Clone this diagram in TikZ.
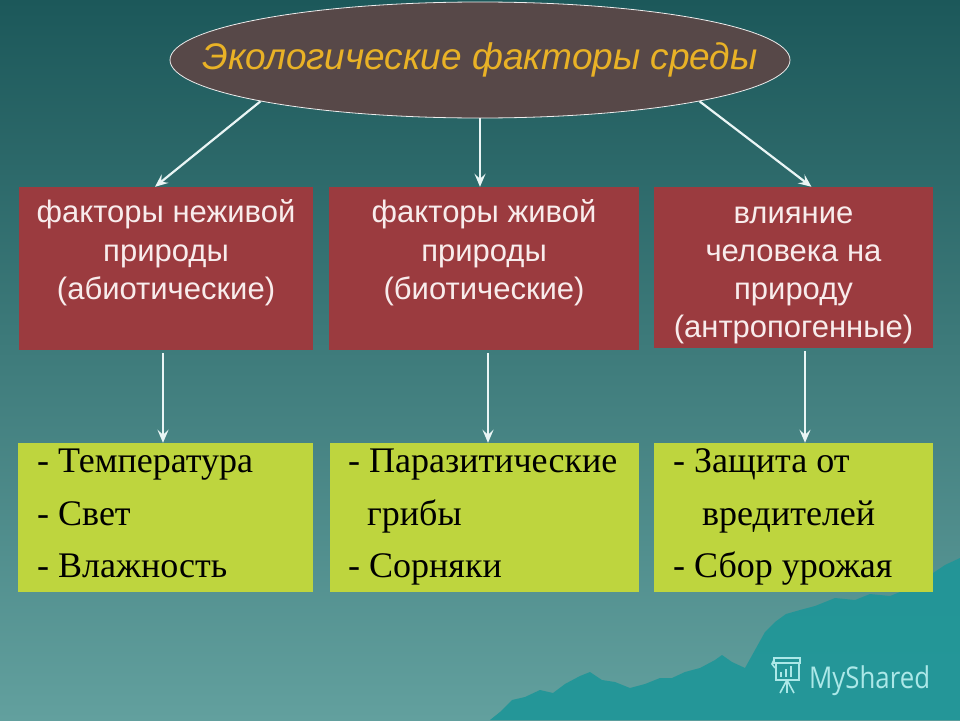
\documentclass[tikz,border=0pt]{standalone}
\usepackage{fontspec}
\setmainfont{Liberation Serif}
\newfontfamily\arialf{Liberation Sans}
\newfontfamily\logof{Open Sans}
\usetikzlibrary{arrows.meta,shapes.geometric}
\definecolor{bgtop}{RGB}{28,88,90}
\definecolor{bgmid}{RGB}{62,128,128}
\definecolor{bgbot}{RGB}{98,160,158}
\definecolor{ellfill}{RGB}{87,72,72}
\definecolor{titlecol}{RGB}{233,178,38}
\definecolor{redbox}{RGB}{155,59,63}
\definecolor{redtext}{RGB}{248,236,236}
\definecolor{greenbox}{RGB}{190,213,62}
\definecolor{arrcol}{RGB}{234,245,245}
\definecolor{mount}{RGB}{30,150,152}
\definecolor{logocol}{RGB}{172,232,232}
\tikzset{
  ell/.style={ellipse, draw=white!85!gray, line width=0.8pt, fill=ellfill, minimum width=620pt, minimum height=116pt, inner sep=0},
  titletext/.style={font=\arialf\itshape\fontsize{37}{44}\selectfont, text=titlecol, inner sep=0},
  rbox/.style={rectangle, fill=redbox, inner sep=0},
  gbox/.style={rectangle, fill=greenbox, inner sep=0},
  rtext/.style={font=\arialf\fontsize{31}{38}\selectfont, text=redtext, inner sep=0, anchor=base},
  gtext/.style={font=\fontsize{36}{44}\selectfont, text=black, inner sep=0, anchor=base west},
  arr/.style={draw=arrcol, line width=2.2pt, -{Stealth[length=13pt,width=11pt,inset=5pt]}},
  logoline/.style={draw=logocol, line width=1.6pt}
}
\begin{document}
\begin{tikzpicture}[x=1pt,y=-1pt]
\useasboundingbox (0,0) rectangle (960,720);
\shade[top color=bgtop, middle color=bgmid, bottom color=bgbot] (0,0) rectangle (960,720);

% mountains
\fill[mount, opacity=0.9] (490,720) -- (500,712) -- (512,700) -- (525,697) -- (540,690) -- (553,693) -- (565,684) -- (580,676) -- (590,672) -- (602,680) -- (615,682) -- (630,688) -- (645,684) -- (660,678) -- (672,678) -- (685,672) -- (700,668) -- (715,660) -- (722,655) -- (732,662) -- (745,668) -- (755,650) -- (765,632) -- (775,622) -- (786,614) -- (800,610) -- (815,606) -- (835,598) -- (855,600) -- (870,594) -- (890,596) -- (905,590) -- (918,590) -- (930,575) -- (945,565) -- (960,558) -- (960,720) -- cycle;

% title ellipse
\node[ell] (title) at (480,60) {};
\node[titletext] (titleT) at (480,60) {Экологические факторы среды};

% red boxes
\node[rbox, minimum width=294pt, minimum height=163pt] (r1) at (166,268.5) {};
\node[rbox, minimum width=310pt, minimum height=163pt] (r2) at (484,268.5) {};
\node[rbox, minimum width=279pt, minimum height=161pt] (r3) at (793.5,267.5) {};

\node[rtext] (r1a) at (166,222) {факторы неживой};
\node[rtext] (r1b) at (166,261) {природы};
\node[rtext] (r1c) at (166,299) {(абиотические)};
\node[rtext] (r2a) at (484,222) {факторы живой};
\node[rtext] (r2b) at (484,261) {природы};
\node[rtext] (r2c) at (484,299) {(биотические)};
\node[rtext] (r3a) at (793.5,223) {влияние};
\node[rtext] (r3b) at (793.5,261) {человека на};
\node[rtext] (r3c) at (793.5,299) {природу};
\node[rtext] (r3d) at (793.5,337) {(антропогенные)};

% green boxes
\node[gbox, minimum width=295pt, minimum height=149pt] (g1) at (165.5,517.5) {};
\node[gbox, minimum width=309pt, minimum height=149pt] (g2) at (484.5,517.5) {};
\node[gbox, minimum width=279pt, minimum height=149pt] (g3) at (793.5,517.5) {};

\node[gtext] (g1a) at (37,472) {- Температура};
\node[gtext] (g1b) at (37,525) {- Свет};
\node[gtext] (g1c) at (37,577) {- Влажность};
\node[gtext] (g2a) at (348,472) {- Паразитические};
\node[gtext] (g2b) at (367,525) {грибы};
\node[gtext] (g2c) at (348,577) {- Сорняки};
\node[gtext] (g3a) at (673,472) {- Защита от};
\node[gtext] (g3b) at (702,525) {вредителей};
\node[gtext] (g3c) at (673,577) {- Сбор урожая};

% arrows
\draw[arr] (title.south west) -- ([xshift=-11pt]r1.north);
\draw[arr] (title.south) -- (title.south |- r2.north);
\draw[arr] (title.south east) -- ([xshift=18pt]r3.north);
\draw[arr, shorten <=3pt] ([xshift=-3pt]r1.south) -- ([xshift=-2.5pt]g1.north);
\draw[arr, shorten <=3pt] ([xshift=4pt]r2.south) -- ([xshift=3.5pt]g2.north);
\draw[arr, shorten <=3pt] ([xshift=11.5pt]r3.south) -- ([xshift=11.5pt]g3.north);

% logo
\draw[logoline] (774,658) rectangle (800,663);
\draw[logoline] (776,663) rectangle (799,680);
\draw[logoline] (774,660) -- (772,664) -- (775,668);
\fill[logocol] (780,672) rectangle (782,677);
\fill[logocol] (785,669) rectangle (787,677);
\fill[logocol] (790,666) rectangle (792,677);
\draw[logoline] (787,680) -- (780,693);
\draw[logoline] (787,680) -- (787,693);
\draw[logoline] (787,680) -- (794,693);
\node[font=\logof\fontsize{30}{36}\selectfont, text=logocol, inner sep=0, anchor=base west, xscale=0.86] (logo) at (809,688) {MyShared};
\end{tikzpicture}
\end{document}
